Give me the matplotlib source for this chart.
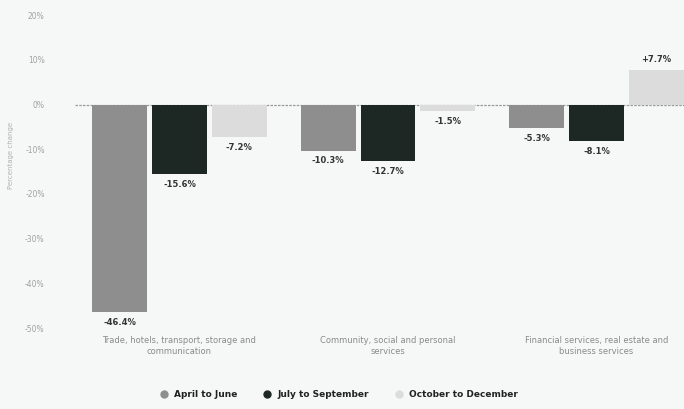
import matplotlib.pyplot as plt
from matplotlib.lines import Line2D
import numpy as np

categories = ["Trade, hotels, transport, storage and\ncommunication",
              "Community, social and personal\nservices",
              "Financial services, real estate and\nbusiness services"]
series = ["April to June", "July to September", "October to December"]
april_june = [-46.4, -10.3, -5.3]
july_sep = [-15.6, -12.7, -8.1]
oct_dec = [-7.2, -1.5, 7.7]
yticks = [20, 10, 0, -10, -20, -30, -40, -50]

colors = ['#8e8e8e', '#1d2824', '#dcdcdc']
bg = '#f6f8f8'

fig = plt.figure(figsize=(6.84, 4.09), dpi=100, facecolor=bg)
ax = fig.add_axes([0.11, 0.198, 0.89, 0.765], facecolor=bg)

x = np.arange(len(categories))
pitch = 0.287
width = 0.263
for i, (vals, c) in enumerate(zip([april_june, july_sep, oct_dec], colors)):
    pos = x + (i - 1) * pitch
    ax.bar(pos, vals, width, color=c, zorder=2)
    for p, v in zip(pos, vals):
        if v < 0:
            ax.text(p, v - 1.3, f"{v:.1f}%", ha='center', va='top',
                    fontsize=6, color='#333333', fontweight='bold')
        else:
            ax.text(p, v + 1.3, f"+{v:.1f}%", ha='center', va='bottom',
                    fontsize=6, color='#333333', fontweight='bold')

ax.axhline(0, color='#999999', lw=0.9, ls=(0, (2, 1)), zorder=1)
ax.set_ylim(-50, 20)
ax.set_xlim(-0.5, 2.42)
ax.set_yticks(yticks)
ax.set_yticklabels([f"{t}%" for t in yticks], fontsize=5.5, color='#a0a0a0')
ax.set_xticks(x)
ax.set_xticklabels(categories, fontsize=6, color='#8a8a8a')
ax.tick_params(length=0, pad=6)
ax.tick_params(axis='y', pad=22)
for s in ax.spines.values():
    s.set_visible(False)
ax.set_ylabel("Percentage change", fontsize=5, color='#b0b0b0', labelpad=2)
ax.yaxis.set_label_coords(-0.1, 0.55)

handles = [Line2D([], [], marker='o', ls='none', color=c, markersize=5) for c in colors]
leg = fig.legend(handles, series, loc='center', bbox_to_anchor=(0.495, 0.035), ncol=3,
                 frameon=False, fontsize=6.5, columnspacing=2.8, handletextpad=0.6,
                 handlelength=1.0)
for t in leg.get_texts():
    t.set_color('#222222')
    t.set_fontweight('bold')

fig.savefig('out.png', dpi=100, facecolor=bg)
